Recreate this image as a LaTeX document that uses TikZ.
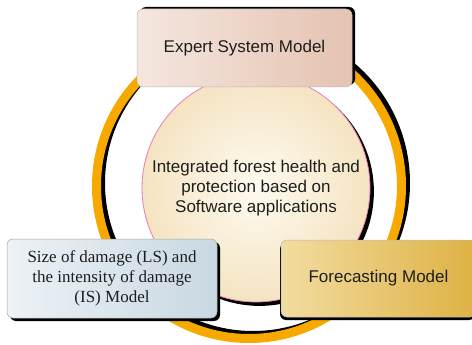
\documentclass[tikz,border=0pt]{standalone}
\usepackage{fontspec}
\setmainfont{Liberation Sans}
\newfontfamily\timesface{Liberation Serif}
\usetikzlibrary{shadows}

\definecolor{ringorange}{HTML}{F8A900}
\definecolor{hubpink}{HTML}{E67DB4}
\definecolor{hubin}{HTML}{FEFAF0}
\definecolor{hubout}{HTML}{F5E4C2}
\definecolor{roseA}{HTML}{F5E6DF}
\definecolor{roseB}{HTML}{E4C3B1}
\definecolor{blueA}{HTML}{EDF2F6}
\definecolor{blueB}{HTML}{C8D8E2}
\definecolor{goldA}{HTML}{F2DCA0}
\definecolor{goldB}{HTML}{DEB243}
\definecolor{inkdark}{HTML}{1E1E1E}

\tikzset{
  modelbox/.style={rectangle, rounded corners=6pt, inner sep=0pt,
    draw=gray!55, line width=0.5pt, text=inkdark, align=center,
    font=\fontsize{17}{20}\selectfont},
  hubnode/.style={circle, inner sep=0pt, minimum size=228pt,
    draw=hubpink, line width=0.8pt, inner color=hubin, outer color=hubout,
    text=inkdark, align=center, font=\fontsize{17}{20}\selectfont},
  ringline/.style={line width=9pt}
}

\begin{document}
\begin{tikzpicture}[x=1pt, y=-1pt]
  \useasboundingbox (0,0) rectangle (472,345);

  % orange ring with its dark offset copy underneath
  \coordinate (ringc) at (249,186);
  \coordinate (ringshade) at (253,183);
  \draw[ringline, black] (ringshade) circle[radius=152.5pt];
  \draw[ringline, ringorange] (ringc) circle[radius=152.5pt];

  % central theme, with a dark disc offset behind it
  \coordinate (hubshade) at (259.5,191.5);
  \fill[black] (hubshade) circle[radius=114.4pt];
  \node[hubnode] (hub) at (256,188)
    {Integrated forest health and\\protection based on\\Software applications};

  % the three models
  \node[modelbox, minimum width=215pt, minimum height=78pt,
        left color=roseA, right color=roseB,
        general shadow={shadow xshift=3pt, shadow yshift=2pt, fill=black}]
    (expert) at (244.5,48) {Expert System Model};

  \node[modelbox, minimum width=210pt, minimum height=79pt,
        left color=blueA, right color=blueB, draw=gray!70,
        font=\timesface\fontsize{17}{20}\selectfont,
        general shadow={shadow xshift=3pt, shadow yshift=-3pt, fill=black}]
    (damage) at (112,278.5) {Size of damage (LS) and\\the intensity of damage\\(IS) Model};

  \node[modelbox, minimum width=195pt, minimum height=77pt,
        left color=goldA, right color=goldB,
        general shadow={shadow xshift=-1pt, shadow yshift=-3pt, fill=black}]
    (forecast) at (378.5,278.5) {Forecasting Model};
\end{tikzpicture}
\end{document}
